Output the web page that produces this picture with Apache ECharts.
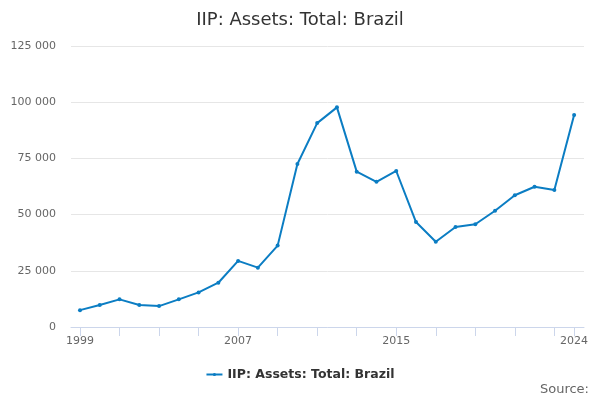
<!DOCTYPE html>
<html>
<head>
<meta charset="utf-8">
<script src="https://cdn.jsdelivr.net/npm/echarts@6/dist/echarts.min.js"></script>
<style>
  html, body { margin: 0; padding: 0; background: #fff; }
  #chart { width: 600px; height: 400px; }
</style>
</head>
<body>
<div id="chart"></div>
<script>
// 数据
var years = [1999, 2000, 2001, 2002, 2003, 2004, 2005, 2006, 2007, 2008, 2009, 2010, 2011,
             2012, 2013, 2014, 2015, 2016, 2017, 2018, 2019, 2020, 2021, 2022, 2023, 2024];
var assets = [7500, 9800, 12300, 9800, 9300, 12300, 15400, 19700, 29400, 26400, 36200, 72500, 90700,
              97700, 69100, 64600, 69400, 46700, 37900, 44500, 45700, 51700, 58600, 62400, 60900, 94300];
var tickYears = [1999, 2001, 2003, 2005, 2007, 2009, 2011, 2013, 2015, 2017, 2019, 2021, 2023, 2024];
var labelYears = [1999, 2007, 2015, 2024];
var seriesName = 'IIP: Assets: Total: Brazil';

var chart = echarts.init(document.getElementById('chart'));

var points = years.map(function (y, i) { return [y, assets[i]]; });

var option = {
    animation: false,
    title: {
        text: seriesName,
        left: 'center',
        top: 6,
        textStyle: { fontFamily: 'DejaVu Sans', fontSize: 18, fontWeight: 'normal', color: '#333' }
    },
    legend: {
        bottom: 14,
        left: 'center',
        itemWidth: 16,
        itemHeight: 4,
        textStyle: { fontFamily: 'DejaVu Sans', fontSize: 12.5, fontWeight: 'bold', color: '#333' },
        data: [seriesName]
    },
    graphic: [{
        type: 'text',
        right: 11,
        top: 383,
        style: { text: 'Source:', fontFamily: 'DejaVu Sans', fontSize: 13, fill: '#666' }
    }],
    grid: { left: 71, right: 16, top: 46, bottom: 73 },
    xAxis: {
        type: 'value',
        min: 1998.545,
        max: 2024.5,
        splitLine: { show: false },
        axisLine: { show: true, lineStyle: { color: '#ccd6eb' } },
        axisTick: { show: true, length: 9, customValues: tickYears, lineStyle: { color: '#ccd6eb' } },
        axisLabel: {
            customValues: labelYears,
            margin: 9,
            fontFamily: 'DejaVu Sans', fontSize: 11, color: '#666',
            formatter: function (v) { return String(v); }
        }
    },
    yAxis: {
        type: 'value',
        min: 0,
        max: 125000,
        interval: 25000,
        axisLine: { show: false },
        axisTick: { show: false },
        splitLine: { lineStyle: { color: '#e6e6e6' } },
        axisLabel: {
            margin: 15,
            fontFamily: 'DejaVu Sans', fontSize: 11, color: '#666',
            formatter: function (v) {
                return String(v).replace(/\B(?=(\d{3})+(?!\d))/g, ' ');
            }
        }
    },
    series: [{
        name: seriesName,
        type: 'line',
        data: points,
        symbol: 'circle',
        symbolSize: 4,
        lineStyle: { width: 2, color: '#0b7dc3' },
        itemStyle: { color: '#0b7dc3' }
    }]
};

chart.setOption(option);
</script>
</body>
</html>
